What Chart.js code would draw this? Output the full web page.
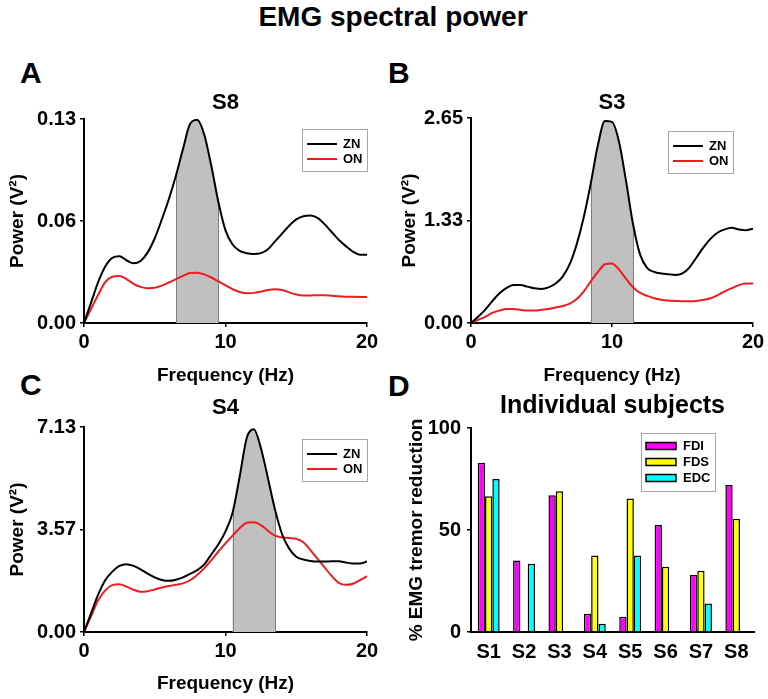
<!DOCTYPE html>
<html>
<head>
<meta charset="utf-8">
<title>EMG spectral power</title>
<script src="https://cdn.jsdelivr.net/npm/chart.js@4.4.1/dist/chart.umd.min.js"></script>
<style>
    body { margin: 0; background: #fff; overflow: hidden; }
    .page { position: relative; width: 768px; height: 699px; font-family: "Liberation Sans", Arial, sans-serif; }
    .page canvas { position: absolute; }
    .main_title { position: absolute; left: 193px; top: 3px; width: 400px; text-align: center; font-size: 28px; font-weight: bold; line-height: 28px; }
    .panel_letter { position: absolute; font-size: 30px; font-weight: bold; line-height: 30px; }
</style>
</head>
<body>
<div class="page">
    <div class="main_title">EMG spectral power</div>
    <div class="panel_letter" style="left:20px; top:58px;">A</div>
    <div class="panel_letter" style="left:388px; top:58px;">B</div>
    <div class="panel_letter" style="left:20px; top:370px;">C</div>
    <div class="panel_letter" style="left:388px; top:371px;">D</div>
    <canvas id="chartS8" width="384" height="302" style="left:0; top:88px;"></canvas>
    <canvas id="chartS3" width="384" height="302" style="left:384px; top:88px;"></canvas>
    <canvas id="chartS4" width="384" height="306" style="left:0; top:392px;"></canvas>
    <canvas id="chartSubjects" width="384" height="314" style="left:384px; top:385px;"></canvas>
</div>
<script>
// Frecuencias (Hz)
const freqHz = [0, 0.5, 1, 1.5, 2, 2.5, 3, 3.5, 4, 4.5, 5, 5.5, 6, 6.5, 7, 7.5, 8, 8.5, 9, 9.5, 10,
    10.5, 11, 11.5, 12, 12.5, 13, 13.5, 14, 14.5, 15, 15.5, 16, 16.5, 17, 17.5, 18, 18.5, 19, 19.5, 20];
const freqTicks = [0, 10, 20];

// S8
const znS8 = [0, 0.013, 0.026, 0.036, 0.0415, 0.0425, 0.040, 0.038, 0.0395, 0.045, 0.054, 0.066, 0.079, 0.094, 0.111, 0.127, 0.1295, 0.120, 0.100, 0.077, 0.059,
    0.050, 0.046, 0.0445, 0.044, 0.0445, 0.047, 0.052, 0.057, 0.062, 0.066, 0.068, 0.0685, 0.067, 0.063, 0.058, 0.053, 0.049, 0.0455, 0.0435, 0.0435];
const onS8 = [0, 0.009, 0.018, 0.026, 0.0295, 0.030, 0.028, 0.025, 0.023, 0.0222, 0.0225, 0.0238, 0.0258, 0.028, 0.030, 0.0318, 0.032, 0.031, 0.029, 0.0265, 0.024,
    0.0215, 0.0198, 0.019, 0.0192, 0.020, 0.021, 0.0215, 0.021, 0.0195, 0.0182, 0.0176, 0.0176, 0.0177, 0.0177, 0.0174, 0.017, 0.0168, 0.0167, 0.0166, 0.0165];
const bandS8 = [6.5, 9.5];
const yTicksS8 = [0, 0.065, 0.13];
const yLabelsS8 = ['0.00', '0.06', '0.13'];

// S3
const znS3 = [0, 0.08, 0.17, 0.28, 0.38, 0.45, 0.49, 0.49, 0.47, 0.45, 0.44, 0.46, 0.51, 0.60, 0.76, 1.02, 1.37, 1.81, 2.30, 2.61, 2.60,
    2.34, 1.83, 1.27, 0.88, 0.71, 0.66, 0.64, 0.63, 0.62, 0.64, 0.72, 0.85, 0.98, 1.09, 1.17, 1.21, 1.23, 1.21, 1.20, 1.22];
const onS3 = [0, 0.04, 0.08, 0.13, 0.16, 0.18, 0.18, 0.17, 0.16, 0.16, 0.17, 0.18, 0.20, 0.22, 0.25, 0.31, 0.41, 0.54, 0.66, 0.76, 0.77,
    0.69, 0.57, 0.46, 0.39, 0.35, 0.32, 0.30, 0.29, 0.285, 0.28, 0.28, 0.285, 0.30, 0.32, 0.36, 0.41, 0.45, 0.49, 0.51, 0.51];
const bandS3 = [8.5, 11.5];
const yTicksS3 = [0, 1.325, 2.65];
const yLabelsS3 = ['0.00', '1.33', '2.65'];

// S4
const znS4 = [0, 0.65, 1.30, 1.80, 2.10, 2.30, 2.36, 2.30, 2.18, 2.03, 1.90, 1.81, 1.78, 1.82, 1.90, 2.02, 2.15, 2.35, 2.70, 3.05, 3.50,
    4.15, 5.40, 6.75, 7.05, 6.40, 5.35, 4.25, 3.40, 2.90, 2.62, 2.52, 2.47, 2.45, 2.45, 2.46, 2.46, 2.42, 2.38, 2.38, 2.45];
const onS4 = [0, 0.55, 1.10, 1.45, 1.63, 1.66, 1.58, 1.47, 1.40, 1.42, 1.48, 1.55, 1.60, 1.64, 1.69, 1.80, 1.98, 2.22, 2.50, 2.80, 3.08,
    3.35, 3.61, 3.80, 3.82, 3.72, 3.52, 3.35, 3.29, 3.27, 3.24, 3.12, 2.85, 2.55, 2.25, 1.95, 1.71, 1.64, 1.68, 1.80, 1.94];
const bandS4 = [10.5, 13.5];
const yTicksS4 = [0, 3.565, 7.13];
const yLabelsS4 = ['0.00', '3.57', '7.13'];

// Individual subjects (% EMG tremor reduction)
const subjects = ['S1', 'S2', 'S3', 'S4', 'S5', 'S6', 'S7', 'S8'];
const fdi = [83, 35, 67, 9, 7.5, 52.5, 28, 72];
const fds = [66.5, null, 69, 37.5, 65.5, 32, 30, 55.5];
const edc = [75, 33.5, null, 4, 37.5, null, 14, null];
const reductionTicks = [0, 50, 100];

document.addEventListener('DOMContentLoaded', function() {
    Chart.defaults.font.family = '"Liberation Sans", Arial, sans-serif';
    Chart.defaults.font.weight = 'bold';
    Chart.defaults.color = '#000';

    // Área gris bajo la curva ZN
    const bandShade = {
        id: 'bandShade',
        beforeDatasetsDraw(chart, args, opts) {
            if (!opts.range) return;
            const ctx = chart.ctx;
            const area = chart.chartArea;
            const xs = chart.scales.x;
            const ys = chart.scales.y;
            const meta = chart.getDatasetMeta(0);
            const line = meta.dataset;
            const pts = meta.data;
            const x0 = xs.getPixelForValue(opts.range[0]);
            const x1 = xs.getPixelForValue(opts.range[1]);
            const base = ys.getPixelForValue(0);

            line.updateControlPoints(area, 'x');
            ctx.save();
            ctx.beginPath();
            ctx.rect(x0, area.top - 10, x1 - x0, area.bottom - area.top + 10);
            ctx.clip();
            ctx.beginPath();
            line.path(ctx);
            ctx.lineTo(pts[pts.length - 1].x, base);
            ctx.lineTo(pts[0].x, base);
            ctx.closePath();
            ctx.fillStyle = '#c0c0c0';
            ctx.fill();
            ctx.restore();

            // Bordes verticales
            ctx.save();
            ctx.strokeStyle = '#7f7f7f';
            ctx.lineWidth = 1;
            opts.range.forEach(v => {
                const i = freqHz.indexOf(v);
                const px = Math.round(xs.getPixelForValue(v)) + 0.5;
                ctx.beginPath();
                ctx.moveTo(px, base);
                ctx.lineTo(px, pts[i].y);
                ctx.stroke();
            });
            ctx.restore();
        }
    };

    // Leyenda con recuadro dentro del área del gráfico
    const boxLegend = {
        id: 'boxLegend',
        afterDraw(chart, args, opts) {
            if (!opts.width) return;
            const ctx = chart.ctx;
            const area = chart.chartArea;
            const x = area.right - opts.right - opts.width;
            const y = area.top + opts.top;
            ctx.save();
            ctx.fillStyle = '#fff';
            ctx.fillRect(x, y, opts.width, opts.height);
            ctx.strokeStyle = '#a6a6a6';
            ctx.lineWidth = 1;
            ctx.strokeRect(Math.round(x) + 0.5, Math.round(y) + 0.5, opts.width, opts.height);
            ctx.font = 'bold ' + opts.fontSize + 'px "Liberation Sans", Arial, sans-serif';
            ctx.textBaseline = 'middle';
            ctx.fillStyle = '#000';
            chart.data.datasets.forEach((ds, i) => {
                const rowY = y + opts.firstRow + i * opts.rowGap;
                if (opts.bars) {
                    ctx.fillStyle = ds.backgroundColor;
                    ctx.fillRect(x + 5, rowY - 3.5, 30, 7);
                    ctx.strokeStyle = '#000';
                    ctx.lineWidth = 1.5;
                    ctx.strokeRect(x + 5, rowY - 3.5, 30, 7);
                } else {
                    ctx.strokeStyle = ds.borderColor;
                    ctx.lineWidth = 2;
                    ctx.beginPath();
                    ctx.moveTo(x + 5, rowY);
                    ctx.lineTo(x + 35, rowY);
                    ctx.stroke();
                }
                ctx.fillStyle = '#000';
                ctx.fillText(ds.label, x + opts.textX, rowY);
            });
            ctx.restore();
        }
    };

    // Gráfico de espectro
    function spectrumChart(id, title, zn, on, band, yTicks, yLabels, dims) {
        const ctx = document.getElementById(id).getContext('2d');
        return new Chart(ctx, {
            type: 'line',
            data: {
                datasets: [{
                    label: 'ZN',
                    data: freqHz.map((f, i) => ({ x: f, y: zn[i] })),
                    borderColor: '#000',
                    borderWidth: 2,
                    pointRadius: 0,
                    cubicInterpolationMode: 'monotone'
                }, {
                    label: 'ON',
                    data: freqHz.map((f, i) => ({ x: f, y: on[i] })),
                    borderColor: '#ee1c1c',
                    borderWidth: 2,
                    pointRadius: 0,
                    cubicInterpolationMode: 'monotone'
                }]
            },
            options: {
                responsive: false,
                animation: false,
                devicePixelRatio: 1,
                layout: { padding: { left: 0, right: dims.right, top: 0, bottom: 0 } },
                scales: {
                    x: {
                        type: 'linear',
                        min: 0,
                        max: 20,
                        afterBuildTicks: scale => { scale.ticks = freqTicks.map(v => ({ value: v })); },
                        afterFit: scale => { scale.height = dims.xHeight; },
                        grid: { drawOnChartArea: false, drawTicks: true, tickLength: 4, color: '#000', lineWidth: 1.5 },
                        border: { color: '#000', width: 2 },
                        ticks: { font: { size: 20, weight: 'bold' }, padding: 3, maxRotation: 0 },
                        title: { display: true, text: 'Frequency (Hz)', font: { size: 19, weight: 'bold' }, padding: { top: 0, bottom: 3 } }
                    },
                    y: {
                        min: 0,
                        max: yTicks[yTicks.length - 1],
                        afterBuildTicks: scale => { scale.ticks = yTicks.map(v => ({ value: v })); },
                        afterFit: scale => { scale.width = dims.yWidth; },
                        grid: { drawOnChartArea: false, drawTicks: true, tickLength: 4, color: '#000', lineWidth: 1.5 },
                        border: { color: '#000', width: 2 },
                        ticks: { font: { size: 20, weight: 'bold' }, padding: 4, callback: (v, i) => yLabels[i] },
                        title: { display: true, text: 'Power (V²)', font: { size: 19, weight: 'bold' }, padding: { top: dims.yTitle, bottom: 0 } }
                    }
                },
                plugins: {
                    legend: { display: false },
                    tooltip: { enabled: false },
                    title: {
                        display: true,
                        text: title,
                        fullSize: false,
                        font: { size: 22, weight: 'bold' },
                        color: '#000',
                        padding: { top: dims.tTop, bottom: dims.tBottom }
                    },
                    bandShade: { range: band },
                    boxLegend: { width: 65, height: 42, right: dims.legRight, top: dims.legTop, firstRow: 15, rowGap: 15, textX: 41, fontSize: 13 }
                }
            },
            plugins: [bandShade, boxLegend]
        });
    }

    spectrumChart('chartS8', 'S8', znS8, onS8, bandS8, yTicksS8, yLabelsS8,
        { right: 17, xHeight: 67, yWidth: 84, yTitle: 6.6, tTop: 2, tBottom: 2.6, legRight: 0, legTop: 10 });
    spectrumChart('chartS3', 'S3', znS3, onS3, bandS3, yTicksS3, yLabelsS3,
        { right: 15, xHeight: 67, yWidth: 87, yTitle: 14.6, tTop: 2, tBottom: 1.6, legRight: 20, legTop: 13 });
    spectrumChart('chartS4', 'S4', znS4, onS4, bandS4, yTicksS4, yLabelsS4,
        { right: 17, xHeight: 66, yWidth: 84, yTitle: 6.6, tTop: 3, tBottom: 5.6, legRight: 0, legTop: 12 });

    // Gráfico de barras por sujeto
    new Chart(document.getElementById('chartSubjects').getContext('2d'), {
        type: 'bar',
        data: {
            labels: subjects,
            datasets: [
                { label: 'FDI', data: fdi, backgroundColor: '#ff00ff' },
                { label: 'FDS', data: fds, backgroundColor: '#ffff00' },
                { label: 'EDC', data: edc, backgroundColor: '#00ffff' }
            ].map(ds => Object.assign(ds, { borderColor: '#000', borderWidth: 1.5, categoryPercentage: 0.62, barPercentage: 1.0 }))
        },
        options: {
            responsive: false,
            animation: false,
            devicePixelRatio: 1,
            layout: { padding: { left: 0, right: 14, top: 0, bottom: 0 } },
            scales: {
                x: {
                    afterFit: scale => { scale.height = 67; },
                    grid: { display: false },
                    border: { color: '#000', width: 2 },
                    ticks: { font: { size: 20, weight: 'bold' }, padding: 0 }
                },
                y: {
                    min: 0,
                    max: 100,
                    afterBuildTicks: scale => { scale.ticks = reductionTicks.map(v => ({ value: v })); },
                    afterFit: scale => { scale.width = 87; },
                    grid: { drawOnChartArea: false, drawTicks: true, tickLength: 4, color: '#000', lineWidth: 1.5 },
                    border: { color: '#000', width: 2 },
                    ticks: { font: { size: 20, weight: 'bold' }, padding: 6 },
                    title: { display: true, text: '% EMG tremor reduction', font: { size: 19, weight: 'bold' }, padding: { top: 21, bottom: 0 } }
                }
            },
            plugins: {
                legend: { display: false },
                tooltip: { enabled: false },
                title: {
                    display: true,
                    text: 'Individual subjects',
                    fullSize: false,
                    font: { size: 25, weight: 'bold' },
                    color: '#000',
                    padding: { top: 6, bottom: 7 }
                },
                boxLegend: { width: 74, height: 58, right: 39, top: 5, firstRow: 13, rowGap: 16, textX: 42, fontSize: 13, bars: true }
            }
        },
        plugins: [boxLegend]
    });
});
</script>
</body>
</html>
